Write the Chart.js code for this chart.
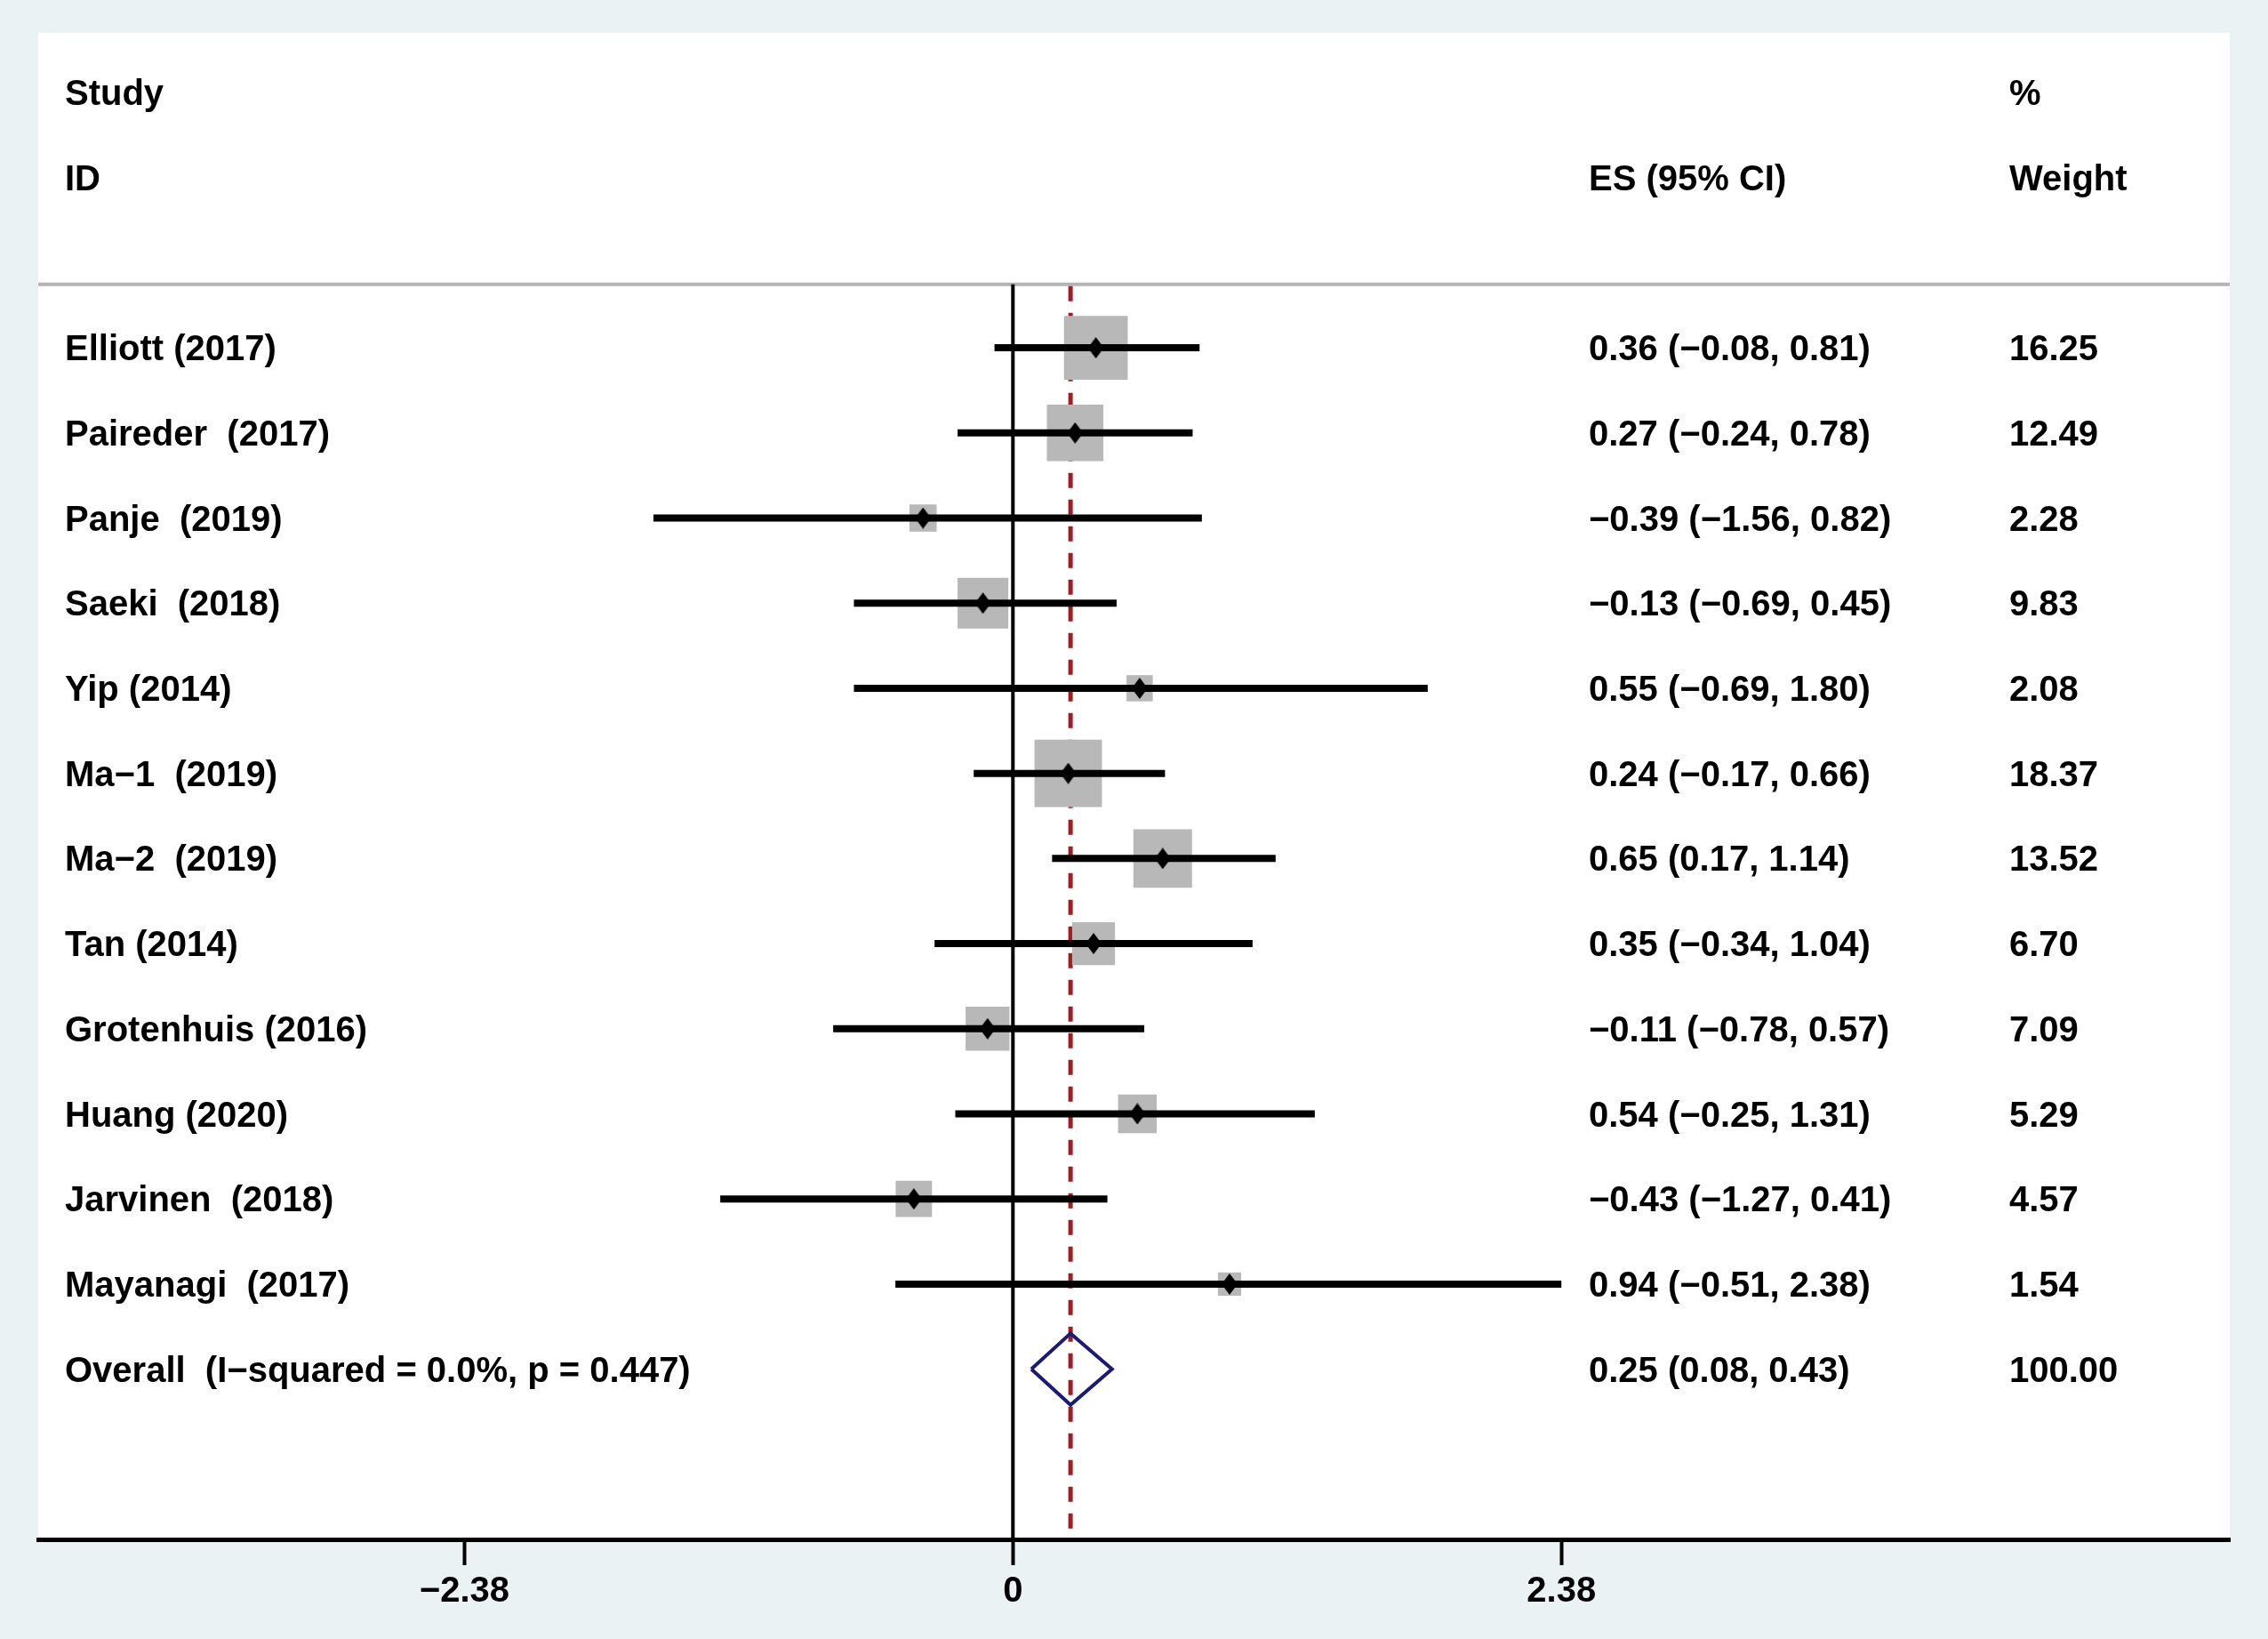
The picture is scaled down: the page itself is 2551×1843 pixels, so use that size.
<!DOCTYPE html>
<html><head><meta charset="utf-8">
<script src="https://cdn.jsdelivr.net/npm/chart.js@4.4.1/dist/chart.umd.min.js"></script>
<style>html,body{margin:0;padding:0;background:rgb(234,242,243);} canvas{display:block;}</style>
</head><body>
<canvas id="c" width="2551" height="1843" style="width:2551px;height:1843px"></canvas>
<script>
// ---------- data ----------
const studies = ["Elliott (2017)", "Paireder  (2017)", "Panje  (2019)", "Saeki  (2018)", "Yip (2014)",
  "Ma\u22121  (2019)", "Ma\u22122  (2019)", "Tan (2014)", "Grotenhuis (2016)", "Huang (2020)",
  "Jarvinen  (2018)", "Mayanagi  (2017)"];
const es     = [0.36, 0.27, -0.39, -0.13, 0.55, 0.24, 0.65, 0.35, -0.11, 0.54, -0.43, 0.94];
const lower  = [-0.08, -0.24, -1.56, -0.69, -0.69, -0.17, 0.17, -0.34, -0.78, -0.25, -1.27, -0.51];
const upper  = [0.81, 0.78, 0.82, 0.45, 1.80, 0.66, 1.14, 1.04, 0.57, 1.31, 0.41, 2.38];
const weights = [16.25, 12.49, 2.28, 9.83, 2.08, 18.37, 13.52, 6.70, 7.09, 5.29, 4.57, 1.54];
const overallLabel = "Overall  (I\u2212squared = 0.0%, p = 0.447)";
const overallES = 0.25, overallLo = 0.08, overallHi = 0.43, overallWeight = 100.00;
const xTicks = [-2.38, 0, 2.38];
const xTickLabels = ["\u22122.38", "0", "2.38"];
const headerStudy = ["Study", "ID"];
const headerES = "ES (95% CI)";
const headerWeight = ["%", "Weight"];

// ---------- helpers / styles ----------
const fmt = v => (v < 0 ? "\u2212" : "") + Math.abs(v).toFixed(2);
const esText = i => fmt(es[i]) + " (" + fmt(lower[i]) + ", " + fmt(upper[i]) + ")";
const boxSide = w => 6 + 16.3 * Math.sqrt(w);
const FONT = "bold 40px 'Liberation Sans', Arial, sans-serif";
const TEXT_DY = 3;
const overallRow = studies.length;
const diamondHalf = 0.42;

// black diamond marker image
const mk = document.createElement('canvas');
mk.width = 18; mk.height = 24;
(function(){ const g = mk.getContext('2d'); g.fillStyle = '#000'; g.beginPath();
  g.moveTo(9,0); g.lineTo(18,12); g.lineTo(9,24); g.lineTo(0,12); g.closePath(); g.fill(); })();

const ciSets = studies.map((s, i) => ({
  data: [{x: lower[i], y: i}, {x: upper[i], y: i}],
  showLine: true, borderColor: '#000', borderWidth: 8, borderCapStyle: 'butt',
  pointRadius: 0, order: 2
}));

const datasets = [
  { data: es.map((v, i) => ({x: v, y: i})), pointStyle: mk, pointRadius: 10, order: 1 },
  ...ciSets,
  { data: es.map((v, i) => ({x: v, y: i})), pointStyle: 'rect',
    pointRadius: c => boxSide(weights[c.dataIndex]) / Math.SQRT2,
    backgroundColor: '#b8b8b8', borderWidth: 0, order: 3 },
  { data: [{x: overallLo, y: overallRow}, {x: overallES, y: overallRow - diamondHalf},
           {x: overallHi, y: overallRow}, {x: overallES, y: overallRow + diamondHalf},
           {x: overallLo, y: overallRow}],
    showLine: true, borderColor: '#1b1b72', borderWidth: 4, pointRadius: 0, fill: false,
    borderJoinStyle: 'miter', order: 4 }
];

const panelPlugin = {
  id: 'panel',
  beforeDraw(chart) {
    const {ctx, chartArea: a} = chart;
    ctx.save();
    ctx.fillStyle = 'rgb(234,242,243)';
    ctx.fillRect(0, 0, chart.width, chart.height);
    ctx.fillStyle = '#fff';
    ctx.fillRect(a.left, a.top, a.right - a.left, a.bottom - a.top);
    ctx.restore();
  },
  beforeDatasetsDraw(chart) {
    const {ctx, chartArea: a, scales: {x, y}} = chart;
    const lineY = y.getPixelForValue(-0.745);
    ctx.save();
    // header separator
    ctx.strokeStyle = '#b4b4b4'; ctx.lineWidth = 4;
    ctx.beginPath(); ctx.moveTo(a.left, lineY); ctx.lineTo(a.right, lineY); ctx.stroke();
    // null line
    const x0 = x.getPixelForValue(0);
    ctx.strokeStyle = '#000'; ctx.lineWidth = 4;
    ctx.beginPath(); ctx.moveTo(x0, lineY); ctx.lineTo(x0, a.bottom); ctx.stroke();
    // overall effect dashed line
    const xe = x.getPixelForValue(overallES);
    ctx.strokeStyle = '#9b1f27'; ctx.lineWidth = 5; ctx.setLineDash([17, 13]);
    ctx.beginPath(); ctx.moveTo(xe, lineY + 2); ctx.lineTo(xe, a.bottom); ctx.stroke();
    ctx.restore();
  },
  afterDraw(chart) {
    const {ctx, chartArea: a, scales: {y}} = chart;
    const cName = a.left + 30, cES = a.left + 1744, cW = a.left + 2217;
    const yp = v => y.getPixelForValue(v) + TEXT_DY;
    ctx.save();
    ctx.font = FONT; ctx.fillStyle = '#000'; ctx.textBaseline = 'middle'; ctx.textAlign = 'left';
    ctx.fillText(headerStudy[0], cName, yp(-3));
    ctx.fillText(headerStudy[1], cName, yp(-2));
    ctx.fillText(headerES, cES, yp(-2));
    ctx.fillText(headerWeight[0], cW, yp(-3));
    ctx.fillText(headerWeight[1], cW, yp(-2));
    studies.forEach((s, i) => {
      const py = yp(i);
      ctx.fillText(s, cName, py);
      ctx.fillText(esText(i), cES, py);
      ctx.fillText(weights[i].toFixed(2), cW, py);
    });
    const po = yp(overallRow);
    ctx.fillText(overallLabel, cName, po);
    ctx.fillText(fmt(overallES) + " (" + fmt(overallLo) + ", " + fmt(overallHi) + ")", cES, po);
    ctx.fillText(overallWeight.toFixed(2), cW, po);
    ctx.restore();
  }
};

new Chart(document.getElementById('c'), {
  type: 'scatter',
  data: { datasets },
  plugins: [panelPlugin],
  options: {
    responsive: false, devicePixelRatio: 1, animation: false, events: [],
    layout: { autoPadding: false, padding: { left: 43, right: 43, top: 37, bottom: 0 } },
    plugins: { legend: { display: false }, tooltip: { enabled: false } },
    scales: {
      x: {
        type: 'linear', min: -4.2296, max: 5.2805, position: 'bottom',
        afterBuildTicks: ax => { ax.ticks = xTicks.map(v => ({ value: v })); },
        afterFit: ax => { ax.height = 112; },
        border: { display: true, color: '#000', width: 5 },
        grid: { display: true, drawOnChartArea: false, drawTicks: true, tickLength: 29, tickWidth: 4, tickColor: '#000' },
        ticks: { autoSkip: false, maxRotation: 0, padding: 6, color: '#000',
          font: { family: "'Liberation Sans', Arial, sans-serif", size: 40, weight: 'bold' },
          callback: (v, i) => xTickLabels[i] }
      },
      y: { type: 'linear', min: -3.70, max: 14.0, reverse: true, display: false }
    }
  }
});
</script>
</body></html>
